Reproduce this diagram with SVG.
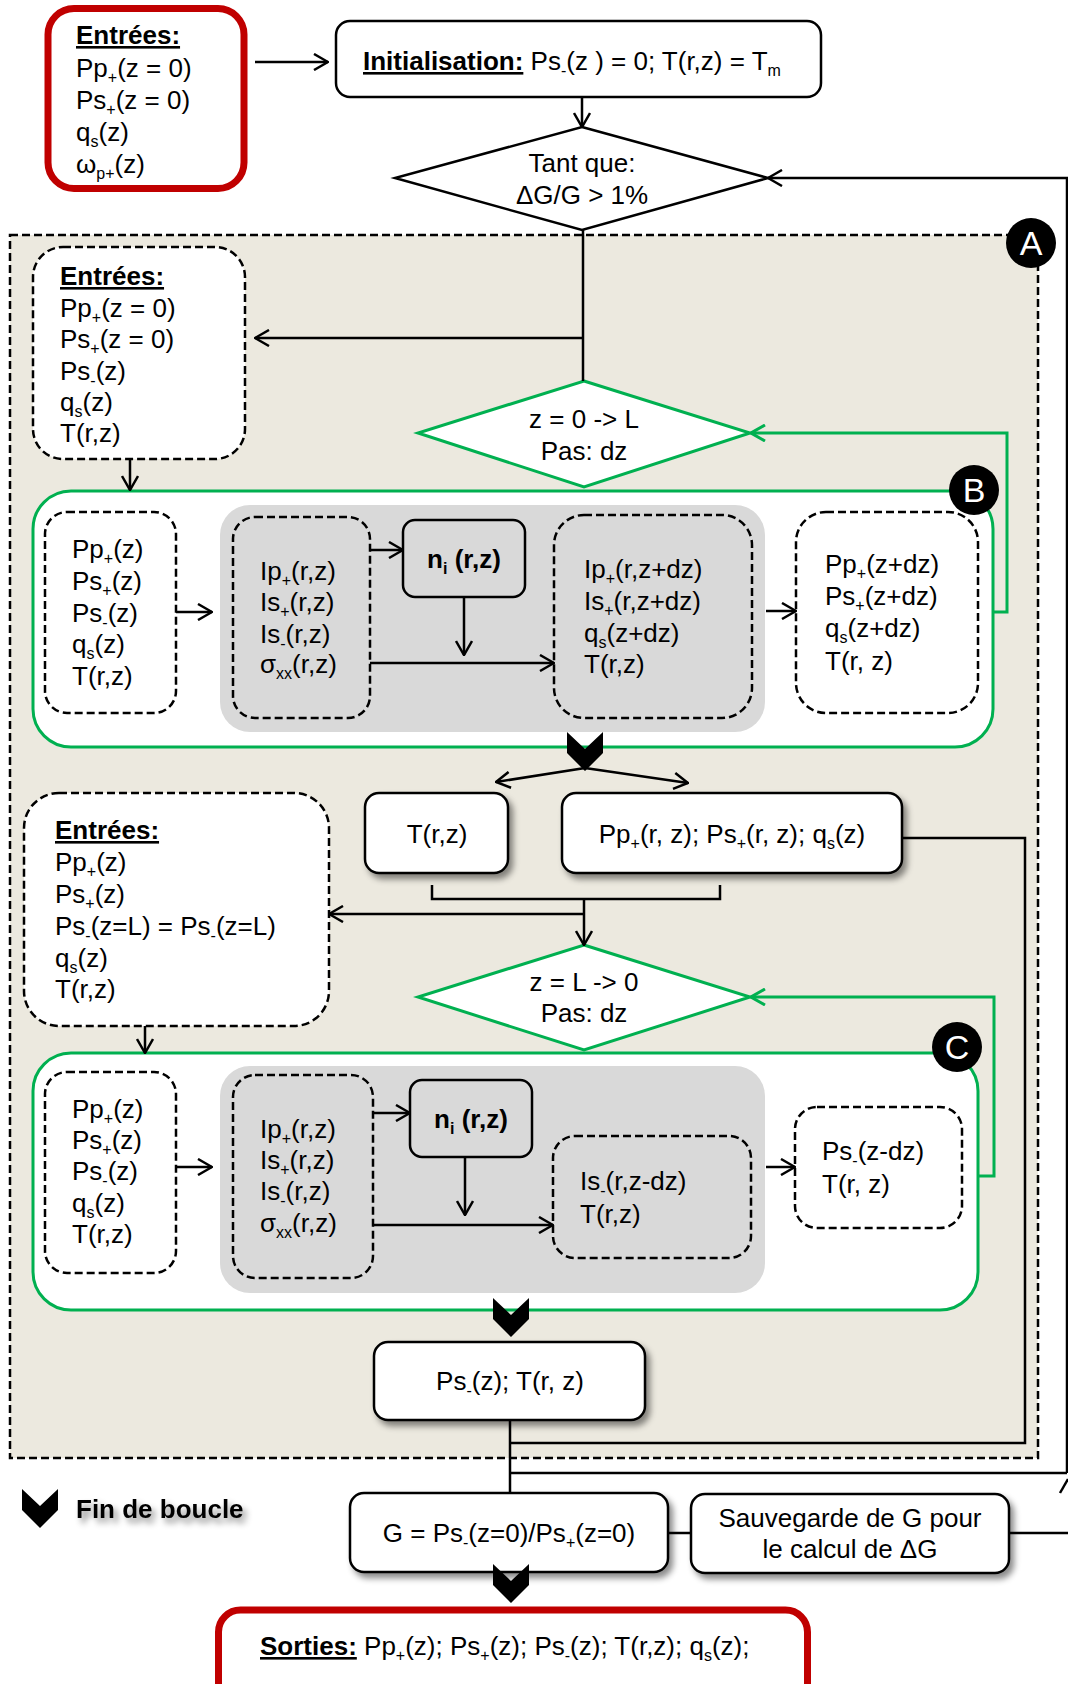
<svg xmlns="http://www.w3.org/2000/svg" width="1068" height="1684" viewBox="0 0 1068 1684">
<defs>
<style>
text{font-family:"Liberation Sans",Arial,Helvetica,sans-serif;font-size:26px;fill:#000}
.b{font-weight:bold}
.u{text-decoration:underline}
.m{text-anchor:middle}
.s{font-size:16px;baseline-shift:-6px}
.dash{fill:#fff;stroke:#000;stroke-width:2.5;stroke-dasharray:8 4}
.dashg{fill:#D9D9D9;stroke:#000;stroke-width:2.5;stroke-dasharray:8 4}
.solid{fill:#fff;stroke:#000;stroke-width:2.5}
.red{fill:#fff;stroke:#C00000;stroke-width:7}
.grn{fill:#fff;stroke:#00B050;stroke-width:3}
.panel{fill:#D9D9D9}
.lbl{font-size:34px;fill:#fff}
.con{fill:none;stroke:#000;stroke-width:2.5}
.gcon{fill:none;stroke:#00B050;stroke-width:3}
</style>
<marker id="ah" viewBox="0 0 16 18" refX="15" refY="9" markerWidth="16" markerHeight="18" markerUnits="userSpaceOnUse" orient="auto"><path d="M1,1 L15,9 L1,17" fill="none" stroke="#000" stroke-width="2.5"/></marker>
<marker id="gah" viewBox="0 0 16 18" refX="15" refY="9" markerWidth="16" markerHeight="18" markerUnits="userSpaceOnUse" orient="auto"><path d="M1,1 L15,9 L1,17" fill="none" stroke="#00B050" stroke-width="3"/></marker>
<filter id="sh" x="-10%" y="-15%" width="130%" height="150%"><feDropShadow dx="4" dy="5" stdDeviation="3" flood-color="#000" flood-opacity="0.45"/></filter>
<path id="chev" d="M-18,0 L0,17 L18,0 L18,21 L0,39 L-18,21 Z" fill="#000"/>
</defs>

<!-- Big container A -->
<g id="A">
<rect x="10" y="235" width="1028" height="1223" fill="#ECE9DF" stroke="#000" stroke-width="2.5" stroke-dasharray="8 4"/>
</g>

<g id="n-entrees1">
<rect class="red" x="48" y="8.5" width="196" height="180" rx="26"/>
<text x="76" y="44" class="b u">Entrées:</text>
<text x="76" y="77">Pp<tspan class="s">+</tspan>(z = 0)</text>
<text x="76" y="109">Ps<tspan class="s">+</tspan>(z = 0)</text>
<text x="76" y="141">q<tspan class="s">s</tspan>(z)</text>
<text x="76" y="173">ω<tspan class="s">p+</tspan>(z)</text>
</g>

<g id="n-init">
<rect class="solid" x="336" y="21" width="485" height="76" rx="14"/>
<text x="363" y="70"><tspan class="b u">Initialisation:</tspan> Ps<tspan class="s">-</tspan>(z ) = 0; T(r,z) = T<tspan class="s">m</tspan></text>
</g>

<g id="n-tantque">
<polygon points="582,127 768,178 582,230 395,178" fill="#fff" stroke="#000" stroke-width="2.5"/>
<text x="582" y="172" class="m">Tant que:</text>
<text x="582" y="204" class="m">ΔG/G &gt; 1%</text>
</g>

<g id="n-labelA">
<circle cx="1031" cy="243" r="25" fill="#000"/>
<text x="1031" y="255" class="lbl m">A</text>
</g>

<g id="n-entrees2">
<rect class="dash" x="33" y="247" width="212" height="212" rx="30"/>
<text x="60" y="285" class="b u">Entrées:</text>
<text x="60" y="317">Pp<tspan class="s">+</tspan>(z = 0)</text>
<text x="60" y="348">Ps<tspan class="s">+</tspan>(z = 0)</text>
<text x="60" y="380">Ps<tspan class="s">-</tspan>(z)</text>
<text x="60" y="411">q<tspan class="s">s</tspan>(z)</text>
<text x="60" y="442">T(r,z)</text>
</g>

<g id="n-loopB">
<polygon points="584,381 750,433 584,487 418,433" fill="#fff" stroke="#00B050" stroke-width="3"/>
<text x="584" y="428" class="m">z = 0 -&gt; L</text>
<text x="584" y="460" class="m">Pas: dz</text>
</g>

<g id="n-B">
<rect class="grn" x="33" y="491" width="960" height="256" rx="38"/>
<rect class="panel" x="220" y="505" width="545" height="227" rx="30"/>
<circle cx="974" cy="490" r="25" fill="#000"/>
<text x="974" y="502" class="lbl m">B</text>
</g>

<g id="n-B1">
<rect class="dash" x="45" y="512" width="131" height="201" rx="22"/>
<text x="72" y="558">Pp<tspan class="s">+</tspan>(z)</text>
<text x="72" y="590">Ps<tspan class="s">+</tspan>(z)</text>
<text x="72" y="622">Ps<tspan class="s">-</tspan>(z)</text>
<text x="72" y="653">q<tspan class="s">s</tspan>(z)</text>
<text x="72" y="685">T(r,z)</text>
</g>

<g id="n-B2">
<rect class="dashg" x="233" y="517" width="137" height="201" rx="22"/>
<text x="260" y="580">Ip<tspan class="s">+</tspan>(r,z)</text>
<text x="260" y="611">Is<tspan class="s">+</tspan>(r,z)</text>
<text x="260" y="643">Is<tspan class="s">-</tspan>(r,z)</text>
<text x="260" y="673">σ<tspan class="s">xx</tspan>(r,z)</text>
</g>

<g id="n-niB">
<rect x="403" y="520" width="122" height="77" rx="12" fill="#D9D9D9" stroke="#000" stroke-width="2.5"/>
<text x="464" y="568" class="b m">n<tspan class="s">i</tspan> (r,z)</text>
</g>

<g id="n-B3">
<rect class="dashg" x="554" y="515" width="198" height="203" rx="30"/>
<text x="584" y="578">Ip<tspan class="s">+</tspan>(r,z+dz)</text>
<text x="584" y="610">Is<tspan class="s">+</tspan>(r,z+dz)</text>
<text x="584" y="642">q<tspan class="s">s</tspan>(z+dz)</text>
<text x="584" y="673">T(r,z)</text>
</g>

<g id="n-B4">
<rect class="dash" x="796" y="512" width="182" height="201" rx="30"/>
<text x="825" y="573">Pp<tspan class="s">+</tspan>(z+dz)</text>
<text x="825" y="605">Ps<tspan class="s">+</tspan>(z+dz)</text>
<text x="825" y="637">q<tspan class="s">s</tspan>(z+dz)</text>
<text x="825" y="670">T(r, z)</text>
</g>

<g id="n-finB"><use href="#chev" x="585" y="732"/></g>

<g id="n-T">
<rect class="solid" x="365" y="793" width="143" height="80" rx="14" filter="url(#sh)"/>
<text x="437" y="843" class="m">T(r,z)</text>
</g>

<g id="n-PpPs">
<rect class="solid" x="562" y="793" width="340" height="80" rx="14" filter="url(#sh)"/>
<text x="732" y="843" class="m">Pp<tspan class="s">+</tspan>(r, z); Ps<tspan class="s">+</tspan>(r, z); q<tspan class="s">s</tspan>(z)</text>
</g>

<g id="n-entrees3">
<rect class="dash" x="24" y="793" width="305" height="233" rx="35"/>
<text x="55" y="839" class="b u">Entrées:</text>
<text x="55" y="871">Pp<tspan class="s">+</tspan>(z)</text>
<text x="55" y="903">Ps<tspan class="s">+</tspan>(z)</text>
<text x="55" y="935">Ps<tspan class="s">-</tspan>(z=L) = Ps<tspan class="s">-</tspan>(z=L)</text>
<text x="55" y="967">q<tspan class="s">s</tspan>(z)</text>
<text x="55" y="998">T(r,z)</text>
</g>

<g id="n-loopC">
<polygon points="584,945 750,997 584,1050 418,997" fill="#fff" stroke="#00B050" stroke-width="3"/>
<text x="584" y="991" class="m">z = L -&gt; 0</text>
<text x="584" y="1022" class="m">Pas: dz</text>
</g>

<g id="n-C">
<rect class="grn" x="33" y="1053" width="945" height="257" rx="38"/>
<rect class="panel" x="220" y="1066" width="545" height="227" rx="30"/>
<circle cx="957" cy="1047" r="25" fill="#000"/>
<text x="957" y="1059" class="lbl m">C</text>
</g>

<g id="n-C1">
<rect class="dash" x="45" y="1072" width="131" height="201" rx="22"/>
<text x="72" y="1118">Pp<tspan class="s">+</tspan>(z)</text>
<text x="72" y="1149">Ps<tspan class="s">+</tspan>(z)</text>
<text x="72" y="1180">Ps<tspan class="s">-</tspan>(z)</text>
<text x="72" y="1212">q<tspan class="s">s</tspan>(z)</text>
<text x="72" y="1243">T(r,z)</text>
</g>

<g id="n-C2">
<rect class="dashg" x="233" y="1075" width="140" height="203" rx="22"/>
<text x="260" y="1138">Ip<tspan class="s">+</tspan>(r,z)</text>
<text x="260" y="1169">Is<tspan class="s">+</tspan>(r,z)</text>
<text x="260" y="1200">Is<tspan class="s">-</tspan>(r,z)</text>
<text x="260" y="1232">σ<tspan class="s">xx</tspan>(r,z)</text>
</g>

<g id="n-niC">
<rect x="410" y="1080" width="122" height="77" rx="12" fill="#D9D9D9" stroke="#000" stroke-width="2.5"/>
<text x="471" y="1128" class="b m">n<tspan class="s">i</tspan> (r,z)</text>
</g>

<g id="n-C3">
<rect class="dashg" x="553" y="1136" width="198" height="122" rx="22"/>
<text x="580" y="1190">Is<tspan class="s">-</tspan>(r,z-dz)</text>
<text x="580" y="1223">T(r,z)</text>
</g>

<g id="n-C4">
<rect class="dash" x="795" y="1107" width="167" height="121" rx="22"/>
<text x="822" y="1160">Ps<tspan class="s">-</tspan>(z-dz)</text>
<text x="822" y="1193">T(r, z)</text>
</g>

<g id="n-finC"><use href="#chev" x="511" y="1298"/></g>

<g id="n-PsT">
<rect class="solid" x="374" y="1342" width="271" height="78" rx="14" filter="url(#sh)"/>
<text x="510" y="1390" class="m">Ps<tspan class="s">-</tspan>(z); T(r, z)</text>
</g>

<g id="n-G">
<rect class="solid" x="350" y="1493" width="318" height="79" rx="14" filter="url(#sh)"/>
<text x="509" y="1542" class="m">G = Ps<tspan class="s">-</tspan>(z=0)/Ps<tspan class="s">+</tspan>(z=0)</text>
</g>

<g id="n-save">
<rect class="solid" x="691" y="1494" width="318" height="79" rx="14" filter="url(#sh)"/>
<text x="850" y="1527" class="m">Sauvegarde de G pour</text>
<text x="850" y="1558" class="m">le calcul de ΔG</text>
</g>

<g id="n-finG"><use href="#chev" x="511" y="1564"/></g>

<g id="n-sorties">
<rect class="red" x="218.5" y="1610" width="589" height="100" rx="22"/>
<text x="260" y="1655"><tspan class="b u">Sorties:</tspan> Pp<tspan class="s">+</tspan>(z); Ps<tspan class="s">+</tspan>(z); Ps<tspan class="s">-</tspan>(z); T(r,z); q<tspan class="s">s</tspan>(z);</text>
</g>

<g id="legend">
<use href="#chev" x="40" y="1489"/>
<text x="76" y="1518" class="b" filter="url(#sh)">Fin de boucle</text>
</g>

<g id="connectors">
<path class="con" d="M255,62 H328" marker-end="url(#ah)"/>
<path class="con" d="M582,97 V127" marker-end="url(#ah)"/>
<path class="con" d="M1067,1473 V178 H768" marker-end="url(#ah)"/>
<path class="con" d="M583,230 V381"/>
<path class="con" d="M583,338 H255" marker-end="url(#ah)"/>
<path class="con" d="M130,459 V490" marker-end="url(#ah)"/>
<path class="gcon" d="M993,612 H1007 V433 H751" marker-end="url(#gah)"/>
<path class="con" d="M176,612 H212" marker-end="url(#ah)"/>
<path class="con" d="M370,550 H403" marker-end="url(#ah)"/>
<path class="con" d="M464,597 V655" marker-end="url(#ah)"/>
<path class="con" d="M370,663 H554" marker-end="url(#ah)"/>
<path class="con" d="M766,611 H796" marker-end="url(#ah)"/>
<path class="con" d="M585,768 L496,782" marker-end="url(#ah)"/>
<path class="con" d="M585,768 L688,783" marker-end="url(#ah)"/>
<path class="con" d="M432,885 V899 H720 V885"/>
<path class="con" d="M584,899 V945" marker-end="url(#ah)"/>
<path class="con" d="M584,914 H329" marker-end="url(#ah)"/>
<path class="con" d="M902,838 H1025 V1443 H510"/>
<path class="con" d="M145,1026 V1053" marker-end="url(#ah)"/>
<path class="gcon" d="M978,1176 H994 V997 H751" marker-end="url(#gah)"/>
<path class="con" d="M176,1167 H212" marker-end="url(#ah)"/>
<path class="con" d="M373,1113 H410" marker-end="url(#ah)"/>
<path class="con" d="M465,1157 V1215" marker-end="url(#ah)"/>
<path class="con" d="M373,1225 H553" marker-end="url(#ah)"/>
<path class="con" d="M766,1167 H795" marker-end="url(#ah)"/>
<path class="con" d="M510,1420 V1493"/>
<path class="con" d="M510,1473 H1067"/>
<path class="con" d="M668,1533 H691"/>
<path class="con" d="M1009,1533 H1068"/>
<path class="con" d="M1060,1493 L1068,1479"/>
</g>
</svg>
